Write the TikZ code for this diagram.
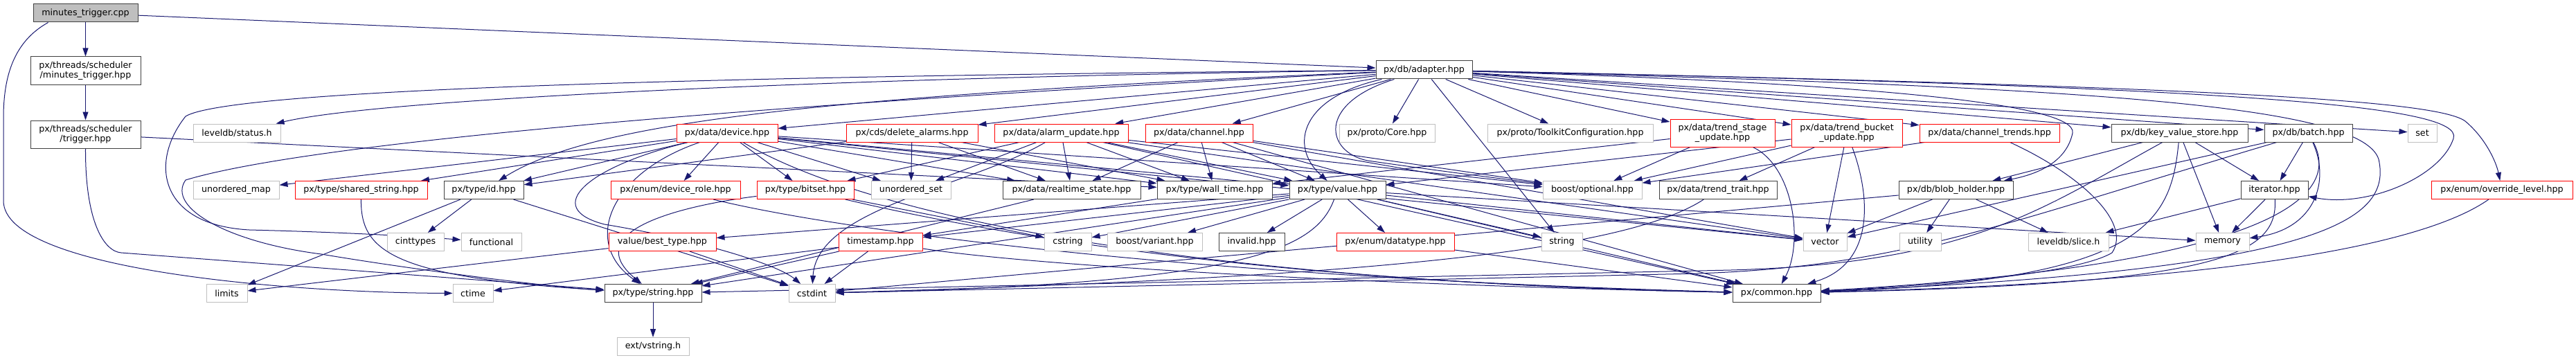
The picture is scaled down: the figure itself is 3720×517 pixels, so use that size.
\documentclass[tikz,border=0pt]{standalone}
\usepackage{fontspec}
\setmainfont{DejaVu Sans}
\usepackage{xcolor}
\usepackage{tikz}
\usetikzlibrary{arrows.meta,positioning,backgrounds}
\definecolor{edgeblue}{HTML}{191970}
\definecolor{hdrgray}{HTML}{BFBFBF}
\definecolor{hdrred}{HTML}{FF0000}
\definecolor{hdrdark}{HTML}{404040}

\begin{document}
\begin{tikzpicture}[
  x=0.75pt, y=-0.75pt,
  incl/.style={rectangle, draw=hdrdark, fill=white, line width=0.75pt, minimum height=19.5pt, inner xsep=0pt, inner ysep=0pt, align=center, font=\fontsize{9.5}{10.75}\selectfont},
  sys/.style={incl, draw=hdrgray},
  trunc/.style={incl, draw=hdrred},
  root/.style={incl, fill=hdrgray},
  two/.style={minimum height=30pt},
  arrow/.style={-{Triangle[length=9pt,width=6pt]}, draw=edgeblue, line width=0.75pt}
]
\useasboundingbox (0,0) rectangle (3720,517);
\node[root, minimum width=113.25pt] (mtcpp) at (123.5,19) {minutes\_trigger.cpp};
\node[incl, two, minimum width=119.25pt, below=36.75pt of mtcpp] (mthpp) {px/threads/scheduler\\/minutes\_trigger.hpp};
\node[incl, two, minimum width=119.25pt, below=38.25pt of mthpp] (trig) {px/threads/scheduler\\/trigger.hpp};
\node[incl, minimum width=104.25pt] (adapter) at (2056.5,101) {px/db/adapter.hpp};
\node[sys, minimum width=94.5pt] (status) at (342,192) {leveldb/status.h};
\node[trunc, minimum width=109.5pt] (device) at (1050,192) {px/data/device.hpp};
\node[trunc, minimum width=142.5pt] (delal) at (1317,192) {px/cds/delete\_alarms.hpp};
\node[trunc, minimum width=144.75pt] (alarmupd) at (1532.5,192) {px/data/alarm\_update.hpp};
\node[trunc, minimum width=116.25pt] (channel) at (1731.5,192) {px/data/channel.hpp};
\node[sys, minimum width=103.5pt] (core) at (2003,192) {px/proto/Core.hpp};
\node[sys, minimum width=179.25pt] (toolkit) at (2267.5,192) {px/proto/ToolkitConfiguration.hpp};
\node[trunc, two, minimum width=113.25pt] (tstage) at (2487.5,192) {px/data/trend\_stage\\\_update.hpp};
\node[trunc, two, minimum width=120pt] (tbucket) at (2667,192) {px/data/trend\_bucket\\\_update.hpp};
\node[trunc, minimum width=151.5pt] (chtrends) at (2873,192) {px/data/channel\_trends.hpp};
\node[incl, minimum width=147.75pt] (kvstore) at (3147.5,192) {px/db/key\_value\_store.hpp};
\node[incl, minimum width=95.25pt] (batch) at (3333.5,192) {px/db/batch.hpp};
\node[sys, minimum width=31.5pt] (set) at (3498,192) {set};
\node[sys, minimum width=93pt] (umap) at (341,274.5) {unordered\_map};
\node[trunc, minimum width=143.25pt] (sharedstr) at (521.5,274.5) {px/type/shared\_string.hpp};
\node[incl, minimum width=86.25pt] (id) at (698.5,274.5) {px/type/id.hpp};
\node[trunc, minimum width=140.25pt] (devrole) at (975.5,274.5) {px/enum/device\_role.hpp};
\node[trunc, minimum width=105pt] (bitset) at (1163,274.5) {px/type/bitset.hpp};
\node[sys, minimum width=86.25pt] (uset) at (1315.5,274.5) {unordered\_set};
\node[incl, minimum width=149.25pt] (rtstate) at (1547.5,274.5) {px/data/realtime\_state.hpp};
\node[incl, minimum width=124.5pt] (walltime) at (1754,274.5) {px/type/wall\_time.hpp};
\node[incl, minimum width=104.25pt] (value) at (1931.5,274.5) {px/type/value.hpp};
\node[sys, minimum width=107.25pt] (optional) at (2299.5,274.5) {boost/optional.hpp};
\node[incl, minimum width=127.5pt] (ttrait) at (2481,274.5) {px/data/trend\_trait.hpp};
\node[incl, minimum width=123.75pt] (blob) at (2824.5,274.5) {px/db/blob\_holder.hpp};
\node[incl, minimum width=72.75pt] (iter) at (3284.5,274.5) {iterator.hpp};
\node[trunc, minimum width=153pt] (ovr) at (3613,274.5) {px/enum/override\_level.hpp};
\node[sys, minimum width=61.5pt] (cinttypes) at (600,349.5) {cinttypes};
\node[sys, minimum width=65.25pt] (functional) at (709.5,349.5) {functional};
\node[trunc, minimum width=116.25pt] (besttype) at (956.5,349.5) {value/best\_type.hpp};
\node[trunc, minimum width=90.75pt] (timestamp) at (1271.5,349.5) {timestamp.hpp};
\node[sys, minimum width=51pt] (cstring) at (1542,349.5) {cstring};
\node[sys, minimum width=102.75pt] (variant) at (1667.5,349.5) {boost/variant.hpp};
\node[incl, minimum width=71.25pt] (invalid) at (1807.5,349.5) {invalid.hpp};
\node[trunc, minimum width=127.5pt] (datatype) at (2015,349.5) {px/enum/datatype.hpp};
\node[sys, minimum width=44.25pt] (string) at (2255.5,349.5) {string};
\node[sys, minimum width=47.25pt] (vector) at (2635.5,349.5) {vector};
\node[sys, minimum width=45pt] (utility) at (2773,349.5) {utility};
\node[sys, minimum width=87pt] (slice) at (2987,349.5) {leveldb/slice.h};
\node[sys, minimum width=57.75pt] (memory) at (3209.5,349.5) {memory};
\node[sys, minimum width=44.25pt] (limits) at (327.5,423.5) {limits};
\node[sys, minimum width=43.5pt] (ctime) at (683,423.5) {ctime};
\node[incl, minimum width=105pt] (pxstring) at (943,423.5) {px/type/string.hpp};
\node[sys, minimum width=50.25pt] (cstdint) at (1172.5,423.5) {cstdint};
\node[incl, minimum width=95.25pt] (common) at (2565.5,423.5) {px/common.hpp};
\node[sys, minimum width=78pt, below=37.5pt of pxstring] (vstring) {ext/vstring.h};
\begin{scope}[on background layer]
\draw[arrow] (mtcpp) -- (mthpp);
\draw[arrow] (mtcpp) -- (adapter);
\draw[arrow] ([xshift=16.5pt]mtcpp.south west) .. controls (20,60) and (5,110) .. (5,170) -- (5,290) .. controls (5,390) and (420,423) .. (ctime);
\draw[arrow] (mthpp) -- (trig);
\draw[arrow] (trig) -- (walltime);
\draw[arrow] (trig.south) .. controls (123,320) and (150,363) .. (175,365) -- (pxstring);
\draw[arrow] (adapter) .. controls (1300,110) and (560,140) .. (status);
\draw[arrow] (adapter) -- (device);
\draw[arrow] (adapter) -- (delal);
\draw[arrow] (adapter) -- (alarmupd);
\draw[arrow] (adapter) -- (channel);
\draw[arrow] (adapter) -- (core);
\draw[arrow] (adapter) -- (toolkit);
\draw[arrow] (adapter) -- (tstage);
\draw[arrow] (adapter) -- (tbucket);
\draw[arrow] (adapter) -- (chtrends);
\draw[arrow] (adapter) -- (kvstore);
\draw[arrow] (adapter) -- (batch);
\draw[arrow] (adapter) -- (set);
\draw[arrow] (adapter) -- (string);
\draw[arrow] (adapter) .. controls (1150,140) and (850,180) .. (id);
\draw[arrow] (adapter) .. controls (1000,110) and (330,130) .. (268,168) .. controls (215,235) and (230,325) .. (360,332) .. controls (480,335) and (580,340) .. (functional);
\draw[arrow] (adapter) .. controls (1100,150) and (450,205) .. (268,260) .. controls (240,300) and (330,350) .. (464,367) .. controls (600,390) and (800,415) .. (pxstring);
\draw[arrow] (adapter) .. controls (1880,140) and (1860,210) .. (value);
\draw[arrow] (adapter) .. controls (1900,150) and (1915,220) .. (1975,232) .. controls (2100,250) and (2200,262) .. (optional);
\draw[arrow] (adapter) .. controls (2700,120) and (3000,150) .. (2993,192) .. controls (2985,230) and (2950,250) .. (blob);
\draw[arrow] (adapter) .. controls (3200,125) and (3560,150) .. (3543,200) .. controls (3525,255) and (3420,300) .. (iter);
\draw[arrow] (adapter) .. controls (3200,125) and (3520,145) .. (3560,175) .. controls (3590,200) and (3605,235) .. (ovr);
\draw[arrow] (adapter) .. controls (3000,125) and (3410,150) .. (3435,230) .. controls (3455,320) and (3350,390) .. (common);
\draw[arrow] (device) -- (umap);
\draw[arrow] (device) -- (sharedstr);
\draw[arrow] (device) -- (id);
\draw[arrow] (device) -- (devrole);
\draw[arrow] (device) -- (bitset);
\draw[arrow] (device) -- (uset);
\draw[arrow] (device) -- (rtstate);
\draw[arrow] (device) -- (walltime);
\draw[arrow] (device) -- (value);
\draw[arrow] (device) -- (optional);
\draw[arrow] (device) -- (vector);
\draw[arrow] (device) .. controls (1250,310) and (1700,405) .. (common);
\draw[arrow] (device) .. controls (850,240) and (780,300) .. (873,324) .. controls (1000,345) and (1120,380) .. (cstdint);
\draw[arrow] (device) .. controls (880,250) and (840,350) .. (pxstring);
\draw[arrow] (delal) -- (uset);
\draw[arrow] (delal) -- (id);
\draw[arrow] (delal) -- (rtstate);
\draw[arrow] (delal) -- (walltime);
\draw[arrow] (alarmupd) -- (bitset);
\draw[arrow] (alarmupd) -- (uset);
\draw[arrow] (alarmupd) -- (rtstate);
\draw[arrow] (alarmupd) -- (walltime);
\draw[arrow] (alarmupd) -- (value);
\draw[arrow] (alarmupd) -- (optional);
\draw[arrow] (alarmupd) -- (vector);
\draw[arrow] (alarmupd) -- (common);
\draw[arrow] (alarmupd) .. controls (1400,270) and (1180,300) .. (cstdint);
\draw[arrow] (channel) -- (rtstate);
\draw[arrow] (channel) -- (walltime);
\draw[arrow] (channel) -- (value);
\draw[arrow] (channel) -- (optional);
\draw[arrow] (channel) -- (vector);
\draw[arrow] (channel) -- (common);
\draw[arrow] (value) -- (besttype);
\draw[arrow] (value) -- (timestamp);
\draw[arrow] (value) -- (cstring);
\draw[arrow] (value) -- (variant);
\draw[arrow] (value) -- (invalid);
\draw[arrow] (value) -- (datatype);
\draw[arrow] (value) -- (string);
\draw[arrow] (value) -- (vector);
\draw[arrow] (value) -- (memory);
\draw[arrow] (value) -- (pxstring);
\draw[arrow] (value) -- (common);
\draw[arrow] (value) .. controls (1900,360) and (1800,410) .. (cstdint);
\draw[arrow] (walltime) -- (timestamp);
\draw[arrow] (rtstate) -- (pxstring);
\draw[arrow] (timestamp) -- (ctime);
\draw[arrow] (timestamp) -- (pxstring);
\draw[arrow] (timestamp) -- (cstdint);
\draw[arrow] (timestamp) .. controls (1500,385) and (2000,412) .. (common);
\draw[arrow] (besttype) -- (limits);
\draw[arrow] (besttype) -- (cstdint);
\draw[arrow] (bitset) .. controls (1000,295) and (830,330) .. (pxstring);
\draw[arrow] (bitset) -- (cstring);
\draw[arrow] (bitset) .. controls (1400,330) and (1800,408) .. (common);
\draw[arrow] (devrole) .. controls (1200,330) and (1700,400) .. (common);
\draw[arrow] (sharedstr) .. controls (521,360) and (560,400) .. (pxstring);
\draw[arrow] (id) -- (cinttypes);
\draw[arrow] (id) -- (limits);
\draw[arrow] (id) -- (cstdint);
\draw[arrow] (pxstring) -- (vstring);
\draw[arrow] (tstage) -- (optional);
\draw[arrow] (tstage) -- (walltime);
\draw[arrow] (tstage) .. controls (2590,240) and (2605,350) .. (common);
\draw[arrow] (tbucket) -- (optional);
\draw[arrow] (tbucket) -- (ttrait);
\draw[arrow] (tbucket) -- (vector);
\draw[arrow] (tbucket) -- (value);
\draw[arrow] (tbucket) .. controls (2700,280) and (2710,380) .. (common);
\draw[arrow] (chtrends) -- (optional);
\draw[arrow] (chtrends) .. controls (3000,250) and (3080,320) .. (3050,365) .. controls (3000,395) and (2800,412) .. (common);
\draw[arrow] (ttrait) .. controls (2350,360) and (2000,400) .. (cstdint);
\draw[arrow] (blob) -- (vector);
\draw[arrow] (blob) -- (utility);
\draw[arrow] (blob) -- (slice);
\draw[arrow] (blob) -- (cstdint);
\draw[arrow] (kvstore) -- (blob);
\draw[arrow] (kvstore) -- (iter);
\draw[arrow] (kvstore) -- (memory);
\draw[arrow] (kvstore) .. controls (3135,320) and (3100,405) .. (common);
\draw[arrow] (kvstore) .. controls (2950,300) and (2850,380) .. (2500,390) -- (pxstring);
\draw[arrow] (batch) -- (iter);
\draw[arrow] (batch) -- (vector);
\draw[arrow] (batch) .. controls (3365,260) and (3345,330) .. (memory);
\draw[arrow] (batch) .. controls (3375,270) and (3330,380) .. (common);
\draw[arrow] (batch) .. controls (2900,320) and (2750,385) .. (2450,395) -- (cstdint);
\draw[arrow] (iter) -- (slice);
\draw[arrow] (iter) -- (memory);
\draw[arrow] (iter) .. controls (3290,370) and (3200,410) .. (common);
\draw[arrow] (ovr) .. controls (3520,340) and (3300,405) .. (common);
\draw[arrow] (datatype) -- (common);
\end{scope}
\end{tikzpicture}
\end{document}
